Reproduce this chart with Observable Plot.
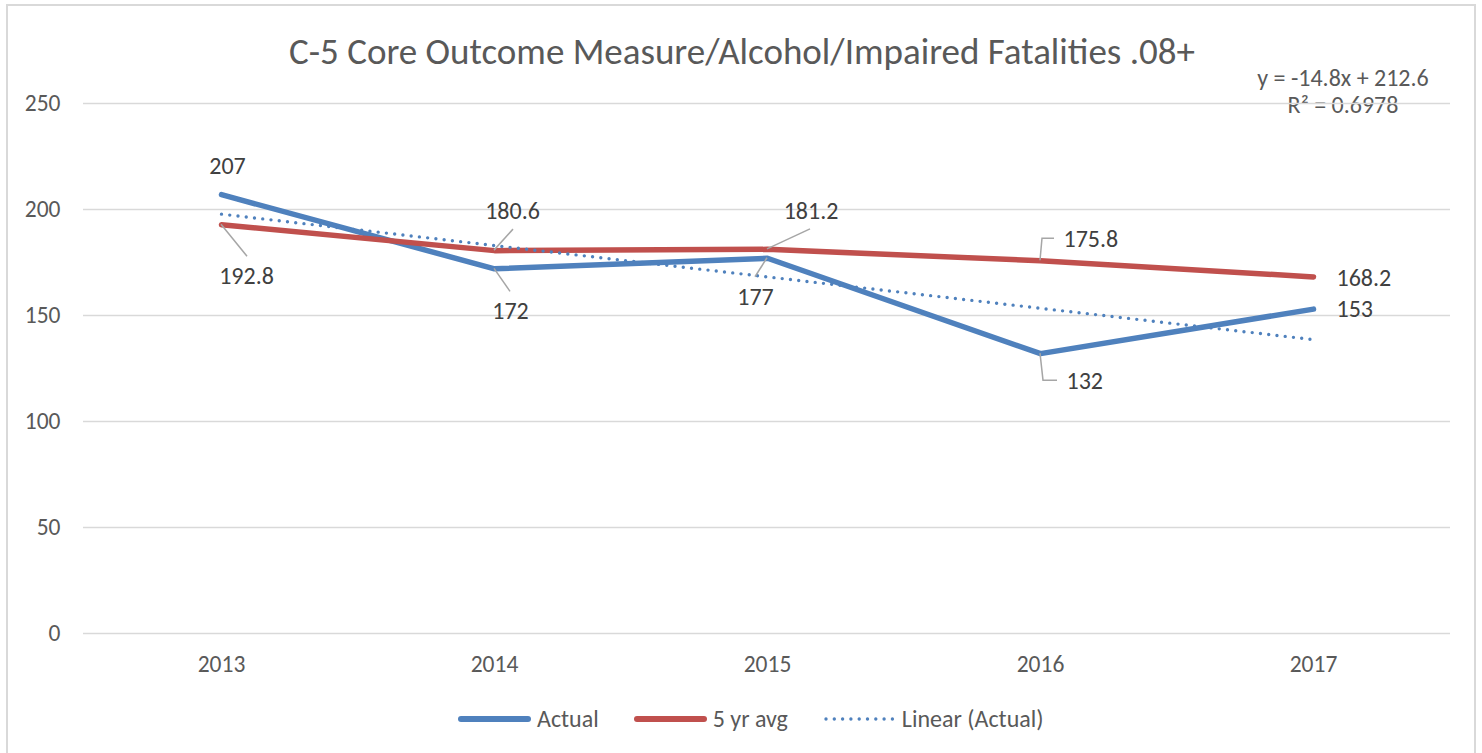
<!DOCTYPE html>
<html>
<head>
<meta charset="utf-8">
<script src="https://cdn.jsdelivr.net/npm/d3@7"></script>
<script src="https://cdn.jsdelivr.net/npm/@observablehq/plot@0.6"></script>
<style>
  html, body { margin: 0; padding: 0; overflow: hidden; background: #fff; }
  body { width: 1482px; height: 753px; position: relative; font-family: Calibri, Carlito, Lato, "Open Sans", sans-serif; }
  #frame { position: absolute; left: 6px; top: 4px; width: 1470px; height: 800px; border: 2px solid #d9d9d9; box-sizing: border-box; }
  #title { position: absolute; left: 0; width: 1484px; top: 33px; text-align: center; font-size: 37px; line-height: 1; color: #595959; white-space: nowrap; }
  #eq { position: absolute; left: 1243px; width: 200px; top: 63.5px; text-align: center; font-size: 24px; line-height: 27px; color: #595959; white-space: nowrap; }
  #chart { position: absolute; left: 0; top: 80px; }
  #legend { position: absolute; left: 458px; top: 707px; display: flex; align-items: center; font-size: 24px; line-height: 1; color: #595959; white-space: nowrap; }
  #legend .item { display: flex; align-items: center; margin-right: 35px; }
  #legend svg { display: block; margin-right: 6px; }
</style>
</head>
<body>
<div id="frame"></div>
<div id="title"></div>
<div id="eq"></div>
<div id="chart"></div>
<div id="legend"></div>
<script>
// ---- data ----
const title = "C-5 Core Outcome Measure/Alcohol/Impaired Fatalities .08+";
const years = ["2013", "2014", "2015", "2016", "2017"];
const actual = [207, 172, 177, 132, 153];
const avg5 = [192.8, 180.6, 181.2, 175.8, 168.2];
const trend = [197.8, 183.0, 168.2, 153.4, 138.6];
const yTicks = [0, 50, 100, 150, 200, 250];
const seriesNames = ["Actual", "5 yr avg", "Linear (Actual)"];
const equationLines = ["y = -14.8x + 212.6", "R² = 0.6978"];

// ---- styling / layout ----
const blue = "#4F81BD", red = "#C0504D", leaderColor = "#A6A6A6";
const fontFamily = "Calibri, Carlito, Lato, 'Open Sans', sans-serif";
// data label placement (pixel offsets from the point; leader polyline offsets)
const actualLabelLayout = [
  {dx: 6, dy: -21, anchor: "middle"},
  {dx: 16, dy: 50, anchor: "middle", leader: [[0, 0], [16, 23]]},
  {dx: -12, dy: 47, anchor: "middle", leader: [[0, 0], [-12, 19]]},
  {dx: 26, dy: 35, anchor: "start", leader: [[0, 0], [3, 27], [17, 27]]},
  {dx: 23, dy: 8, anchor: "start"}
];
const avgLabelLayout = [
  {dx: 25, dy: 59, anchor: "middle", leader: [[0, 0], [26, 32]]},
  {dx: 18, dy: -32, anchor: "middle", leader: [[0, 0], [19, -21]]},
  {dx: 43.5, dy: -30, anchor: "middle", leader: [[0, 0], [43, -20]]},
  {dx: 23, dy: -14, anchor: "start", leader: [[0, 0], [2, -22], [14, -22]]},
  {dx: 23, dy: 9, anchor: "start"}
];

const toRows = (vals) => years.map((year, i) => ({year, value: vals[i]}));
const actualRows = toRows(actual);
const avgRows = toRows(avg5);
const trendRows = toRows(trend);

const labelRows = [
  ...actualRows.map((r, i) => ({...r, ...actualLabelLayout[i]})),
  ...avgRows.map((r, i) => ({...r, ...avgLabelLayout[i]}))
];

const labelMarks = labelRows.map(r => Plot.text([r], {
  x: "year", y: "value", text: d => String(d.value),
  dx: r.dx, dy: r.dy, textAnchor: r.anchor, lineAnchor: "bottom",
  fontSize: 24, fill: "#404040"
}));

const leaderMark = (index, scales) => {
  const g = d3.create("svg:g").attr("fill", "none").attr("stroke", leaderColor).attr("stroke-width", 1.5);
  for (const r of labelRows) {
    if (!r.leader) continue;
    const px = scales.x(r.year), py = scales.y(r.value);
    g.append("path").attr("d", d3.line()(r.leader.map(([a, b]) => [px + a, py + b])));
  }
  return g.node();
};

const chart = Plot.plot({
  width: 1482,
  height: 600,
  marginLeft: 83,
  marginRight: 32,
  marginTop: 23,
  marginBottom: 47,
  style: {fontFamily, color: "#595959", background: "transparent", overflow: "visible"},
  x: {type: "point", domain: years, padding: 0.5, label: null},
  y: {domain: [0, 250], label: null},
  marks: [
    Plot.gridY(yTicks, {stroke: "#d9d9d9", strokeOpacity: 1, strokeWidth: 1.5}),
    Plot.axisY(yTicks, {tickSize: 0, tickPadding: 23, fontSize: 23.5, label: null}),
    Plot.axisX({tickSize: 0, tickPadding: 22, fontSize: 23.5, label: null}),
    Plot.line(actualRows, {x: "year", y: "value", stroke: blue, strokeWidth: 5.5, strokeLinecap: "round", strokeLinejoin: "round"}),
    Plot.line(avgRows, {x: "year", y: "value", stroke: red, strokeWidth: 5.5, strokeLinecap: "round", strokeLinejoin: "round"}),
    Plot.line(trendRows, {x: "year", y: "value", stroke: blue, strokeWidth: 3.4, strokeDasharray: "0 8.3", strokeLinecap: "round"}),
    leaderMark,
    ...labelMarks
  ]
});
document.getElementById("chart").appendChild(chart);

document.getElementById("title").textContent = title;
document.getElementById("eq").innerHTML = equationLines.map(t => `<div>${t}</div>`).join("");

const swatches = [
  {color: blue, width: 6, dash: null},
  {color: red, width: 6, dash: null},
  {color: blue, width: 3.4, dash: "0 8.3"}
];
const legend = document.getElementById("legend");
seriesNames.forEach((name, i) => {
  const s = swatches[i];
  const item = document.createElement("div");
  item.className = "item";
  item.innerHTML = `<svg width="73" height="10"><line x1="3" x2="70" y1="5" y2="5" stroke="${s.color}" stroke-width="${s.width}" stroke-linecap="round" ${s.dash ? `stroke-dasharray="${s.dash}"` : ""}/></svg><span>${name}</span>`;
  legend.appendChild(item);
});
</script>
</body>
</html>
